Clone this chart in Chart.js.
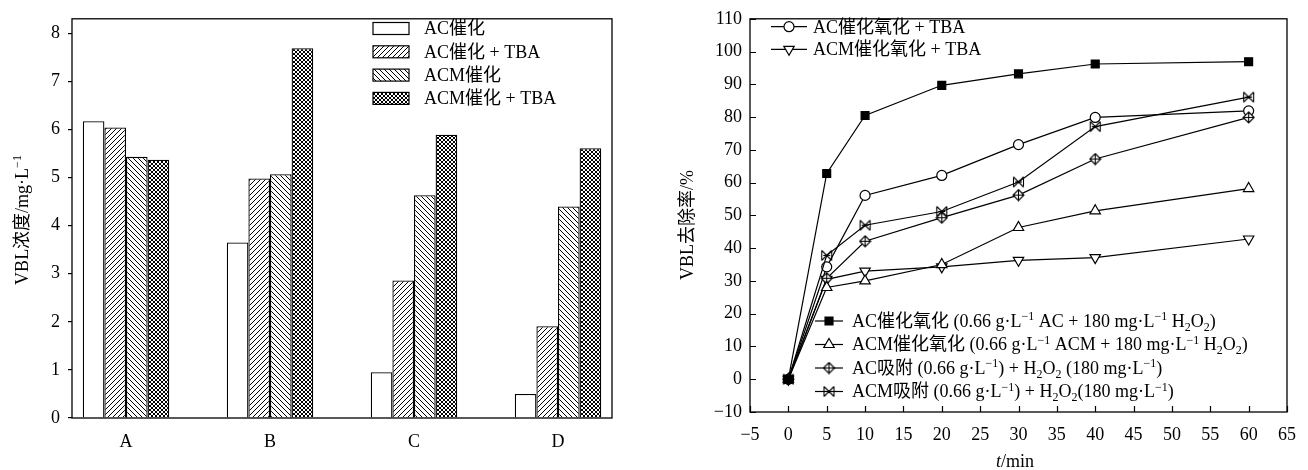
<!DOCTYPE html>
<html>
<head>
<meta charset="utf-8">
<script src="https://cdn.jsdelivr.net/npm/chart.js@4.4.1/dist/chart.umd.min.js"></script>
<style>
  html, body { margin: 0; padding: 0; background: #fff; }
  #left { position: absolute; left: 0; top: 0; }
  #right { position: absolute; left: 660px; top: 0; }
</style>
</head>
<body>
<canvas id="left" width="650" height="470"></canvas>
<canvas id="right" width="648" height="470"></canvas>
<script>
// ---- bar chart data (VBL concentration, mg/L) ----
const groups = ['A', 'B', 'C', 'D'];
const acCat = [6.17, 3.65, 0.95, 0.50];
const acCatTba = [6.04, 4.98, 2.86, 1.91];
const acmCat = [5.43, 5.07, 4.63, 4.40];
const acmCatTba = [5.37, 7.69, 5.89, 5.61];

// ---- line chart data (VBL removal, %) ----
const times = [0, 5, 10, 20, 30, 40, 60];
const acOx = [0, 62.8, 80.5, 89.7, 93.2, 96.2, 96.9];
const acmOx = [0, 28.0, 30.0, 35.0, 46.3, 51.4, 58.2];
const acOxTba = [0, 34.3, 56.1, 62.2, 71.6, 79.9, 81.9];
const acmOxTba = [0, 30.5, 33.0, 34.3, 36.3, 37.1, 42.8];
const acAds = [0, 30.8, 42.1, 49.3, 56.2, 67.2, 79.9];
const acmAds = [0, 37.8, 47.0, 51.2, 60.2, 77.1, 86.1];

const SERIF = "'Liberation Serif', 'Noto Sans CJK SC', serif";
const FS = 18;

// text with ^{sup}, _{sub} and *{italic} runs
function richParts(str) {
  const parts = [];
  const re = /([\^_*])\{([^}]*)\}/g;
  let last = 0, m;
  while ((m = re.exec(str))) {
    if (m.index > last) parts.push({ t: str.slice(last, m.index), k: '' });
    parts.push({ t: m[2], k: m[1] });
    last = re.lastIndex;
  }
  if (last < str.length) parts.push({ t: str.slice(last), k: '' });
  return parts;
}

function drawRich(ctx, str, x, y, size, align) {
  const small = Math.round(size * 0.68);
  const fontFor = k => k === '*' ? 'italic ' + size + 'px ' + SERIF
    : (k ? small : size) + 'px ' + SERIF;
  const parts = richParts(str);
  let w = 0;
  parts.forEach(p => { ctx.font = fontFor(p.k); p.w = ctx.measureText(p.t).width; w += p.w; });
  let cx = align === 'center' ? x - w / 2 : x;
  ctx.textAlign = 'left';
  ctx.textBaseline = 'alphabetic';
  ctx.fillStyle = '#000';
  parts.forEach(p => {
    ctx.font = fontFor(p.k);
    const dy = p.k === '^' ? -size * 0.36 : p.k === '_' ? size * 0.2 : 0;
    ctx.fillText(p.t, cx, y + dy);
    cx += p.w;
  });
}

// hatch fills for the bars
function hatch(dirs, step) {
  const c = document.createElement('canvas');
  c.width = c.height = step;
  const g = c.getContext('2d');
  g.fillStyle = '#fff';
  g.fillRect(0, 0, step, step);
  g.strokeStyle = '#000';
  g.lineWidth = 1;
  g.beginPath();
  dirs.forEach(d => {
    if (d === '/') {
      g.moveTo(-1, step + 1); g.lineTo(step + 1, -1);
      g.moveTo(-1, 1); g.lineTo(1, -1);
      g.moveTo(step - 1, step + 1); g.lineTo(step + 1, step - 1);
    } else {
      g.moveTo(-1, -1); g.lineTo(step + 1, step + 1);
      g.moveTo(step - 1, -1); g.lineTo(step + 1, 1);
      g.moveTo(-1, step - 1); g.lineTo(1, step + 1);
    }
  });
  g.stroke();
  return document.getElementById('left').getContext('2d').createPattern(c, 'repeat');
}

const barSeries = [
  { label: 'AC催化', values: acCat, fill: '#fff' },
  { label: 'AC催化 + TBA', values: acCatTba, fill: hatch(['/'], 5) },
  { label: 'ACM催化', values: acmCat, fill: hatch(['\\'], 5) },
  { label: 'ACM催化 + TBA', values: acmCatTba, fill: hatch(['/', '\\'], 4) }
];

const framePlugin = {
  id: 'frame',
  afterDraw(chart) {
    const { ctx, chartArea: a } = chart;
    ctx.save();
    ctx.strokeStyle = '#000';
    ctx.lineWidth = 1.3;
    ctx.strokeRect(a.left, a.top, a.right - a.left, a.bottom - a.top);
    ctx.restore();
  }
};

const leftDecor = {
  id: 'leftDecor',
  afterDraw(chart) {
    const ctx = chart.ctx;
    ctx.save();
    // legend
    barSeries.forEach((s, i) => {
      const y = 28.5 + i * 23.3;
      ctx.fillStyle = s.fill;
      ctx.fillRect(373, y - 6, 36, 12);
      ctx.strokeStyle = '#000';
      ctx.lineWidth = 1.2;
      ctx.strokeRect(373, y - 6, 36, 12);
      drawRich(ctx, s.label, 424, y + FS * 0.33, FS, 'left');
    });
    // y title
    ctx.translate(22, 220);
    ctx.rotate(-Math.PI / 2);
    drawRich(ctx, 'VBL浓度/mg·L^{−1}', 0, FS * 0.33, FS, 'center');
    ctx.restore();
  }
};

new Chart(document.getElementById('left'), {
  type: 'bar',
  data: {
    datasets: barSeries.map(s => ({
      label: s.label,
      data: s.values.map((v, i) => ({ x: i, y: v })),
      backgroundColor: s.fill,
      borderColor: '#000',
      borderWidth: 1.3,
      categoryPercentage: 0.6,
      barPercentage: 1
    }))
  },
  options: {
    responsive: false,
    animation: false,
    events: [],
    layout: { padding: { top: 15, right: 38, left: 0, bottom: 0 } },
    plugins: { legend: { display: false }, tooltip: { enabled: false } },
    scales: {
      x: {
        type: 'linear', min: -0.375, max: 3.375, offset: false,
        grid: { display: false, drawTicks: false, offset: false },
        border: { display: false },
        ticks: {
          stepSize: 1, includeBounds: false, autoSkip: false, maxRotation: 0,
          padding: 13, color: '#000', font: { family: SERIF, size: FS },
          callback: v => groups[v] ?? ''
        },
        afterFit: s => { s.height = 52; }
      },
      y: {
        min: 0, max: 8.3,
        grid: { drawOnChartArea: false, drawTicks: true, tickLength: 4, color: '#000', lineWidth: 1.2 },
        border: { display: false },
        ticks: {
          stepSize: 1, includeBounds: false, padding: 8,
          color: '#000', font: { family: SERIF, size: FS }
        },
        afterFit: s => { s.width = 72; }
      }
    }
  },
  plugins: [framePlugin, leftDecor]
});

// ---- custom markers ----
function marker(draw) {
  const c = document.createElement('canvas');
  c.width = c.height = 13;
  const g = c.getContext('2d');
  g.strokeStyle = '#000';
  g.fillStyle = '#fff';
  g.lineWidth = 1.1;
  draw(g);
  return c;
}
const diamondCross = marker(g => {
  g.beginPath();
  g.moveTo(6.5, 1); g.lineTo(12, 6.5); g.lineTo(6.5, 12); g.lineTo(1, 6.5); g.closePath();
  g.fill(); g.stroke();
  g.beginPath();
  g.moveTo(6.5, 1); g.lineTo(6.5, 12);
  g.moveTo(1, 6.5); g.lineTo(12, 6.5);
  g.stroke();
});
const bowtieX = marker(g => {
  g.beginPath();
  g.moveTo(1.5, 1.5); g.lineTo(11.5, 11.5);
  g.moveTo(11.5, 1.5); g.lineTo(1.5, 11.5);
  g.moveTo(1.5, 1.5); g.lineTo(1.5, 11.5);
  g.moveTo(11.5, 1.5); g.lineTo(11.5, 11.5);
  g.moveTo(3, 6.5); g.lineTo(10, 6.5);
  g.stroke();
});

const lineSeries = [
  { label: 'AC催化氧化 (0.66 g·L^{−1} AC + 180 mg·L^{−1} H_{2}O_{2})', values: acOx, style: 'rect', radius: 5.6, fill: '#000' },
  { label: 'ACM催化氧化 (0.66 g·L^{−1} ACM + 180 mg·L^{−1} H_{2}O_{2})', values: acmOx, style: 'triangle', radius: 6, fill: '#fff' },
  { label: 'AC吸附 (0.66 g·L^{−1}) + H_{2}O_{2} (180 mg·L^{−1})', values: acAds, style: diamondCross, radius: 6, fill: '#fff' },
  { label: 'ACM吸附 (0.66 g·L^{−1}) + H_{2}O_{2}(180 mg·L^{−1})', values: acmAds, style: bowtieX, radius: 6, fill: '#fff' },
  { label: 'AC催化氧化 + TBA', values: acOxTba, style: 'circle', radius: 5, fill: '#fff' },
  { label: 'ACM催化氧化 + TBA', values: acmOxTba, style: 'triangle', rotation: 180, radius: 6, fill: '#fff' }
];

const rightDecor = {
  id: 'rightDecor',
  beforeDatasetsDraw(chart) {
    // inward tick marks
    const { ctx, chartArea: a, scales: { x, y } } = chart;
    ctx.save();
    ctx.strokeStyle = '#000';
    ctx.lineWidth = 1.2;
    ctx.beginPath();
    x.ticks.forEach(t => {
      const px = Math.round(x.getPixelForValue(t.value)) + 0.5;
      ctx.moveTo(px, a.bottom); ctx.lineTo(px, a.bottom - 6);
    });
    y.ticks.forEach(t => {
      const py = Math.round(y.getPixelForValue(t.value)) + 0.5;
      ctx.moveTo(a.left, py); ctx.lineTo(a.left + 6, py);
    });
    ctx.stroke();
    ctx.restore();
  },
  afterDraw(chart) {
    const ctx = chart.ctx;
    ctx.save();
    const row = (s, x0, x1, y, tx) => {
      ctx.strokeStyle = '#000';
      ctx.lineWidth = 1.2;
      ctx.beginPath(); ctx.moveTo(x0, y); ctx.lineTo(x1, y); ctx.stroke();
      ctx.fillStyle = s.fill;
      Chart.helpers.drawPoint(ctx, { pointStyle: s.style, radius: s.radius, rotation: s.rotation || 0, borderWidth: 1.2 }, (x0 + x1) / 2, y);
      drawRich(ctx, s.label, tx, y + FS * 0.33, FS, 'left');
    };
    row(lineSeries[4], 111, 147, 26.7, 153);
    row(lineSeries[5], 111, 147, 49.3, 153);
    [0, 1, 2, 3].forEach(i => row(lineSeries[i], 155, 183, 321 + i * 23.5, 192));
    // axis titles
    drawRich(ctx, '*{t}/min', 355, 461 + FS * 0.33, FS, 'center');
    ctx.translate(27, 225);
    ctx.rotate(-Math.PI / 2);
    drawRich(ctx, 'VBL去除率/%', 0, FS * 0.33, FS, 'center');
    ctx.restore();
  }
};

const minus = v => (v < 0 ? '−' + Math.abs(v) : String(v));

new Chart(document.getElementById('right'), {
  type: 'line',
  data: {
    datasets: lineSeries.map(s => ({
      label: s.label,
      data: s.values.map((v, i) => ({ x: times[i], y: v })),
      borderColor: '#000',
      borderWidth: 1.2,
      tension: 0,
      fill: false,
      pointStyle: s.style,
      pointRotation: s.rotation || 0,
      pointRadius: s.radius,
      pointBackgroundColor: s.fill,
      pointBorderColor: '#000',
      pointBorderWidth: 1.2
    }))
  },
  options: {
    responsive: false,
    animation: false,
    events: [],
    layout: { padding: { top: 13, right: 20, left: 0, bottom: 0 } },
    plugins: { legend: { display: false }, tooltip: { enabled: false } },
    scales: {
      x: {
        type: 'linear', min: -5, max: 65,
        grid: { display: false, drawTicks: false },
        border: { display: false },
        ticks: {
          stepSize: 5, autoSkip: false, maxRotation: 0, padding: 12,
          color: '#000', font: { family: SERIF, size: FS }, callback: minus
        },
        afterFit: s => { s.height = 58; }
      },
      y: {
        min: -10, max: 110,
        grid: { display: false, drawTicks: false },
        border: { display: false },
        ticks: {
          stepSize: 10, padding: 8,
          color: '#000', font: { family: SERIF, size: FS }, callback: minus
        },
        afterFit: s => { s.width = 90; }
      }
    }
  },
  plugins: [framePlugin, rightDecor]
});
</script>
</body>
</html>
